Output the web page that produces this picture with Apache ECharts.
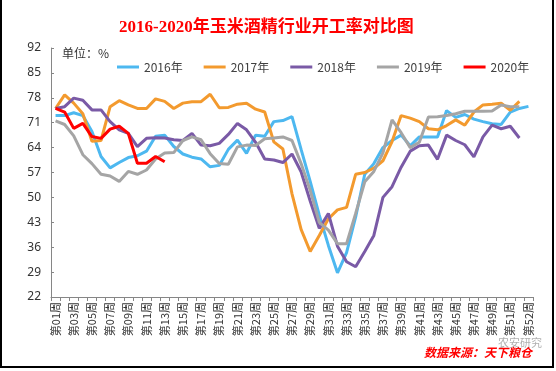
<!DOCTYPE html>
<html><head><meta charset="utf-8">
<script src="https://cdn.jsdelivr.net/npm/echarts@6/dist/echarts.min.js"></script>
<style>html,body{margin:0;padding:0;background:#fff}#c{width:556px;height:371px}</style>
</head><body><div id="c"></div>
<script>
var weeks = ['第01周','第02周','第03周','第04周','第05周','第06周','第07周','第08周','第09周','第10周',
'第11周','第12周','第13周','第14周','第15周','第16周','第17周','第18周','第19周','第20周',
'第21周','第22周','第23周','第24周','第25周','第26周','第27周','第28周','第29周','第30周',
'第31周','第32周','第33周','第34周','第35周','第36周','第37周','第38周','第39周','第40周',
'第41周','第42周','第43周','第44周','第45周','第46周','第47周','第48周','第49周','第50周',
'第51周','第52周','第52周'];
var seriesNames = ['2016年','2017年','2018年','2019年','2020年'];
var y2016 = [73.0,73.0,73.8,73.0,68.5,61.5,58.3,59.8,61.2,61.7,63.0,67.2,67.5,64.3,62.2,61.3,60.8,58.6,59.0,63.5,66.1,62.4,67.5,67.2,71.3,71.6,72.7,63.5,54.5,45.0,36.5,28.8,34.5,44.5,56.5,59.5,64.0,66.0,67.5,64.5,67.0,67.0,67.0,74.4,72.5,73.3,72.0,71.3,70.7,70.5,74.0,75.0,75.6];
var y2017 = [75.0,78.8,76.5,73.5,65.8,66.0,75.5,77.2,76.0,75.0,75.0,77.7,77.0,75.0,76.5,76.9,76.9,79.0,75.2,75.3,76.2,76.5,74.8,74.0,65.6,63.6,51.0,41.0,34.8,39.3,44.0,46.5,47.2,56.5,57.0,58.2,60.3,65.7,73.0,72.3,71.3,69.3,69.0,70.2,71.8,70.3,74.0,76.0,76.2,76.5,74.5,77.0,null];
var y2018 = [75.0,75.5,77.9,77.3,74.6,74.6,71.3,69.0,68.0,64.3,66.6,66.8,66.7,66.2,66.0,68.0,64.7,64.5,65.2,67.7,70.8,69.0,65.5,60.8,60.5,59.8,62.2,57.2,49.0,41.3,45.5,36.3,31.9,30.5,34.8,39.3,50.0,53.0,58.5,63.0,64.5,64.7,60.7,67.5,66.0,64.8,61.4,67.0,70.3,69.3,70.0,66.7,null];
var y2019 = [71.5,70.5,67.3,62.0,59.5,56.5,56.0,54.5,57.3,56.5,57.7,60.8,62.5,62.6,66.0,67.0,66.2,62.3,59.5,59.3,64.2,64.7,64.6,66.5,66.7,67.0,66.0,59.5,52.0,43.0,40.8,37.0,37.0,45.5,54.4,57.3,62.5,71.8,68.2,64.0,65.5,72.6,72.7,73.0,73.5,74.2,74.2,74.2,74.3,76.0,75.5,75.5,null];
var y2020 = [75.0,74.0,69.4,70.8,67.1,66.6,69.2,70.0,68.0,59.6,59.6,61.5,60.0];
var colors = ['#4DB8F0','#F39A2E','#7A5AA6','#A5A5A5','#FF0000'];

var chart = echarts.init(document.getElementById('c'), null, {renderer:'canvas'});
var allData = [y2016,y2017,y2018,y2019,y2020];
var series = seriesNames.map(function(n,i){
  return {name:n,type:'line',data:allData[i],showSymbol:false,symbol:'none',
    lineStyle:{width:3,color:colors[i]},itemStyle:{color:colors[i]},z:i===4?10:2+i,animation:false};
});
chart.setOption({
  animation:false,
  backgroundColor:'#fff',
  title:{text:'2016-2020年玉米酒精行业开工率对比图',left:114,top:14,
    textStyle:{color:'#FF0000',fontSize:17,fontWeight:'bold',fontFamily:'Liberation Serif, Noto Sans CJK SC'}},
  legend:{data:seriesNames,left:112,top:56,icon:'rect',itemWidth:22,itemHeight:3,itemGap:21,
    textStyle:{fontSize:12,color:'#404040',fontFamily:'Noto Sans CJK SC'}},
  grid:{left:51,right:23,top:48,bottom:74,containLabel:false},
  xAxis:{type:'category',data:weeks,boundaryGap:true,
    axisLine:{lineStyle:{color:'#868686',width:1}},
    axisTick:{show:true,interval:0,length:4,lineStyle:{color:'#868686'}},
    axisLabel:{interval:1,rotate:90,fontSize:11,color:'#333',margin:5,fontFamily:'Noto Sans CJK SC'},
    splitLine:{show:false}},
  yAxis:{type:'value',min:22,max:92,interval:7,
    axisLine:{show:true,lineStyle:{color:'#868686',width:1}},
    axisTick:{show:true,inside:true,length:3,lineStyle:{color:'#868686'}},
    axisLabel:{fontSize:12,color:'#333',margin:10,fontFamily:'Noto Sans'},
    splitLine:{show:false}},
  graphic:[
    {type:'text',left:62,top:47,style:{text:'单位：%',fontSize:12,fill:'#333',fontFamily:'Noto Sans CJK SC'}},
    {type:'text',left:424,top:346,style:{text:'数据来源：天下粮仓',fontSize:12,fontWeight:'bold',fontStyle:'italic',fill:'#FF0000',fontFamily:'Noto Sans CJK SC'}},
    {type:'text',left:498,top:337,z:100,style:{text:'农安研究',fontSize:11,fill:'rgba(110,110,110,0.55)',fontFamily:'Noto Sans CJK SC'}},
    {type:'rect',shape:{x:1,y:-3,width:552,height:370},style:{fill:'none',stroke:'#000',lineWidth:2},silent:true,z:100}
  ],
  series:series
});
</script></body></html>
